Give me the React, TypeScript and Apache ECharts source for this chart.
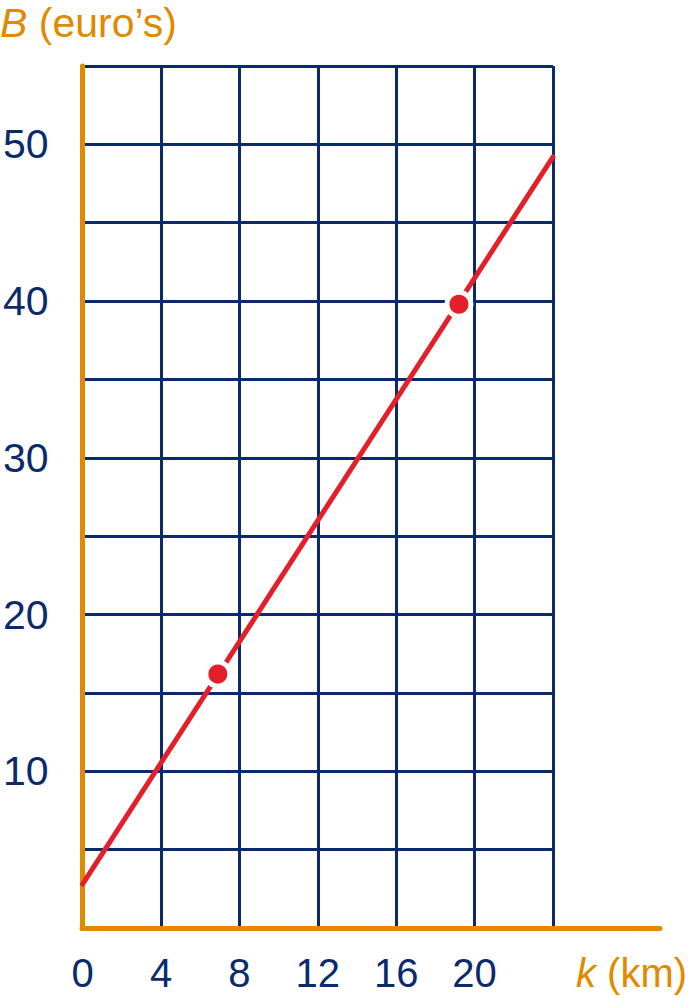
import React, { useEffect, useRef } from "react";
import * as echarts from "echarts";

const xTickLabels = [0, 4, 8, 12, 16, 20];
const yTickLabels = [10, 20, 30, 40, 50];
const lineData: [number, number][] = [
  [0, 2.8],
  [24, 49.2],
];
const pointData: [number, number][] = [
  [6.9, 16.2],
  [19.2, 39.8],
];

const NAVY = "#0A2A6B";
const ORANGE = "#E08A00";
const RED = "#E3202A";
const FONT = "Liberation Sans, Arial, sans-serif";

export default function App() {
  const ref = useRef<HTMLDivElement>(null);
  useEffect(() => {
    if (!ref.current) return;
    const chart = echarts.init(ref.current, null, { renderer: "svg" });
    chart.setOption({
      animation: false,
      backgroundColor: "#ffffff",
      grid: [
        { left: 82, right: 138, top: 66, bottom: 70 },
        { left: 82, right: 31, top: 66, bottom: 70 },
      ],
      xAxis: [
        {
          type: "value",
          gridIndex: 0,
          min: 0,
          max: 24,
          interval: 4,
          axisLine: { show: false },
          axisTick: { show: false },
          splitLine: { show: true, lineStyle: { color: NAVY, width: 3 } },
          axisLabel: {
            show: true,
            margin: 25,
            color: NAVY,
            fontSize: 40,
            fontFamily: FONT,
            showMinLabel: true,
            showMaxLabel: true,
            formatter: (v: number) => (xTickLabels.includes(v) ? String(v) : ""),
          },
        },
        {
          type: "value",
          gridIndex: 1,
          min: 0,
          max: 29.45,
          axisLine: { show: true, lineStyle: { color: ORANGE, width: 5, cap: "round" } },
          axisTick: { show: false },
          splitLine: { show: false },
          axisLabel: { show: false },
        },
      ],
      yAxis: [
        {
          type: "value",
          gridIndex: 0,
          min: 0,
          max: 55,
          interval: 5,
          axisLine: { show: true, lineStyle: { color: ORANGE, width: 5, cap: "round" } },
          axisTick: { show: false },
          splitLine: { show: true, lineStyle: { color: NAVY, width: 3 } },
          axisLabel: {
            show: true,
            margin: 34,
            color: NAVY,
            fontSize: 41,
            fontFamily: FONT,
            padding: [6, 0, 0, 0],
            formatter: (v: number) => (yTickLabels.includes(v) ? String(v) : ""),
          },
        },
        {
          type: "value",
          gridIndex: 1,
          min: 0,
          max: 55,
          show: false,
        },
      ],
      series: [
        {
          type: "line",
          xAxisIndex: 0,
          yAxisIndex: 0,
          data: lineData,
          showSymbol: false,
          symbol: "none",
          lineStyle: { color: RED, width: 5, cap: "round" },
          emphasis: { disabled: true },
          z: 3,
        },
        {
          type: "scatter",
          xAxisIndex: 0,
          yAxisIndex: 0,
          data: pointData,
          symbol: "circle",
          symbolSize: 24,
          itemStyle: { color: RED, borderColor: "#ffffff", borderWidth: 5, opacity: 1 },
          emphasis: { disabled: true },
          z: 4,
        },
      ],
      graphic: [
        {
          type: "text",
          left: 0,
          top: 2,
          style: {
            text: "{i|B} (euro’s)",
            fill: ORANGE,
            fontSize: 41,
            fontFamily: FONT,
            rich: {
              i: { fontStyle: "italic", fontSize: 41, fontFamily: FONT, fill: ORANGE, color: ORANGE },
            },
          },
        },
        {
          type: "text",
          left: 576,
          top: 953,
          style: {
            text: "{i|k} (km)",
            fill: ORANGE,
            fontSize: 40,
            fontFamily: FONT,
            rich: {
              i: { fontStyle: "italic", fontSize: 40, fontFamily: FONT, fill: ORANGE, color: ORANGE },
            },
          },
        },
      ],
    });
    return () => chart.dispose();
  }, []);
  return (
    <div
      ref={ref}
      style={{ position: "absolute", left: 0, top: 0, width: 691, height: 998 }}
    />
  );
}
